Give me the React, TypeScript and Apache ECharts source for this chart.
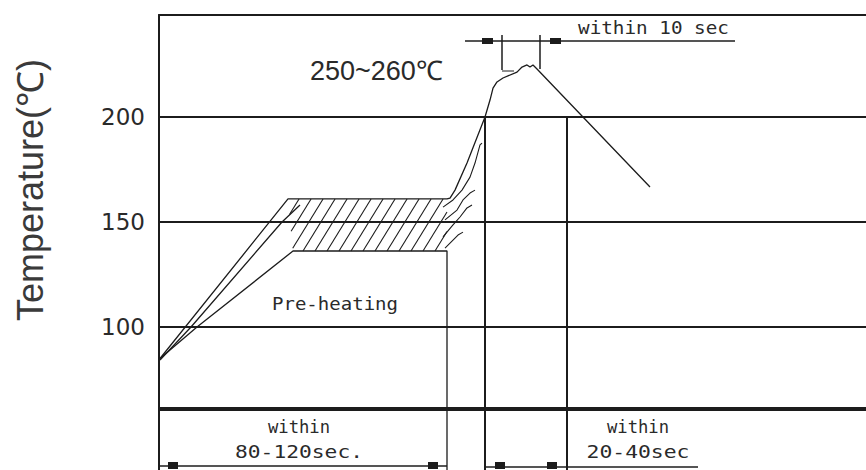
import React, { useEffect, useRef } from 'react';
import * as echarts from 'echarts';

// ---- axis values ----
const yTickValues = [100, 150, 200];
const baseLineTemp = [61];
const tempRange = [31.9, 248.6];
const timeRange = [0, 353.5];

// ---- reflow profile (time, temperature) ----
const profileUpper: number[][] = [
  [0.5, 85], [64.5, 161], [144, 161], [145.5, 161.4], [148, 165.2], [154, 178.1], [163, 200],
  [165.5, 208.1], [167, 213.8], [169, 216.7], [172, 218.6], [179, 221.4], [181.5, 223.8],
  [184, 224.8], [185.5, 223.8], [187, 224.8], [189, 222.9], [245.5, 166.7],
];
const profileLower: number[][] = [[0.5, 85], [19, 100], [67, 136.2], [144, 136.2], [144, 31.9]];
const profileMiddle: number[][] = [[0.5, 84.3], [16, 100], [61.5, 150], [70.5, 158.1]];
const rampLine1: number[][] = [[142, 157.1], [147, 160.5], [151.5, 165.2], [155.5, 171.4], [158, 178.1], [160.5, 186.7], [161.5, 187.6]];
const rampLine2: number[][] = [[143, 151], [149, 155.7], [152, 160.5], [155.5, 163.8], [158, 165.2]];
const rampLine3: number[][] = [[142, 142.9], [147, 148.6], [150.5, 152.4], [154, 156.7], [156.5, 158.1]];
const rampLine4: number[][] = [[143, 137.6], [145.5, 140], [149.5, 143.8], [152, 145.2]];
const hatchZone: number[][] = [[64.5, 161], [144, 161], [144, 136.2], [67, 136.2]];
const zoneBoundaryTimes = [163, 204];
const zoneBoundaryTemp = 200;

const INK = '#1c1c1c';
const TEXT = '#2a2a2a';

function lineSeries(data: number[][], width = 1.3) {
  return {
    type: 'line',
    data,
    symbol: 'none',
    showSymbol: false,
    silent: true,
    z: 3,
    lineStyle: { color: INK, width },
  };
}

function monoText(text: string, cx: number, cy: number, targetWidth: number, fontSize = 18) {
  const natural = text.length * 0.602 * fontSize;
  return {
    type: 'text',
    x: cx,
    y: cy,
    scaleX: targetWidth / natural,
    style: {
      text,
      fontSize,
      fontFamily: '"DejaVu Sans Mono"',
      fill: TEXT,
      align: 'center',
      verticalAlign: 'middle',
      textAlign: 'center',
      textVerticalAlign: 'middle',
    },
    z: 10,
  };
}

export default function App() {
  const ref = useRef<HTMLDivElement>(null);
  useEffect(() => {
    document.body.style.margin = '0';
    const chart = echarts.init(ref.current!, null, { renderer: 'svg' });

    const hatchSeries = {
      type: 'custom',
      silent: true,
      z: 2,
      data: [[0, 100]],
      encode: { x: 0, y: 1 },
      renderItem: (_params: any, api: any) => {
        const [tl, tr, , bl] = hatchZone.map((p) => api.coord(p));
        const yT = tl[1];
        const yB = bl[1];
        const H = yB - yT;
        const k = 32 / 52;
        const kl = (tl[0] - bl[0]) / H;
        const right = tr[0];
        const children: any[] = [];
        for (let x0 = bl[0] - 50; x0 < right; x0 += 12) {
          const lo = Math.max(0, x0 < bl[0] ? (bl[0] - x0) / (k - kl) : 0);
          const hi = Math.min(H, (right - x0) / k);
          if (hi - lo > 1) {
            children.push({
              type: 'line',
              shape: { x1: x0 + lo * k, y1: yB - lo, x2: x0 + hi * k, y2: yB - hi },
              style: { stroke: INK, lineWidth: 1.1 },
            });
          }
        }
        return { type: 'group', children };
      },
    };

    const option: any = {
      animation: false,
      grid: { left: 159, right: 0, top: 15, bottom: 0 },
      xAxis: {
        type: 'value',
        min: timeRange[0],
        max: timeRange[1],
        position: 'top',
        axisLine: { show: true, lineStyle: { color: INK, width: 2 } },
        axisTick: { show: false },
        axisLabel: { show: false },
        splitLine: { show: false },
      },
      yAxis: {
        type: 'value',
        min: tempRange[0],
        max: tempRange[1],
        axisLine: { show: true, lineStyle: { color: INK, width: 2 } },
        axisTick: { show: false },
        splitLine: { show: false },
        axisLabel: {
          customValues: yTickValues,
          margin: 14,
          fontSize: 23,
          fontFamily: '"DejaVu Sans"',
          color: TEXT,
          padding: [12, 0, 0, 0],
        },
      },
      series: [
        {
          ...lineSeries(profileUpper),
          markLine: {
            silent: true,
            symbol: 'none',
            label: { show: false },
            lineStyle: { color: INK, width: 2, type: 'solid' },
            data: [
              ...yTickValues.map((v) => ({ yAxis: v })),
              ...baseLineTemp.map((v) => ({ yAxis: v, lineStyle: { color: INK, width: 4, type: 'solid' } })),
            ],
          },
        },
        lineSeries(profileLower.map((p, i) => (i === profileLower.length - 1 ? [p[0], tempRange[0]] : p))),
        lineSeries(profileMiddle),
        lineSeries(rampLine1, 1.1),
        lineSeries(rampLine2, 1.1),
        lineSeries(rampLine3, 1.1),
        lineSeries(rampLine4, 1.1),
        ...zoneBoundaryTimes.map((t) => lineSeries([[t, zoneBoundaryTemp], [t, tempRange[0]]], 2)),
        hatchSeries,
      ],
      graphic: [
        {
          type: 'text',
          x: 30,
          y: 190,
          rotation: Math.PI / 2,
          style: {
            text: 'Temperature(℃)',
            fontSize: 36,
            fontFamily: '"Liberation Sans"',
            fill: '#3a3a3a',
            align: 'center',
            verticalAlign: 'middle',
            textAlign: 'center',
            textVerticalAlign: 'middle',
          },
        },
        {
          type: 'text',
          x: 310,
          y: 71,
          style: {
            text: '250~260℃',
            fontSize: 27,
            fontFamily: '"Liberation Sans"',
            fill: TEXT,
            align: 'left',
            verticalAlign: 'middle',
            textAlign: 'left',
            textVerticalAlign: 'middle',
          },
        },
        monoText('within 10 sec', 653.5, 28, 151),
        monoText('Pre-heating', 335, 304, 126),
        monoText('within', 299, 427, 62),
        monoText('80-120sec.', 299, 452, 128),
        monoText('within', 638, 427, 62),
        monoText('20-40sec', 638, 452, 103),
        // top dimension (within 10 sec)
        { type: 'line', shape: { x1: 465, y1: 41, x2: 735, y2: 41 }, style: { stroke: INK, lineWidth: 1.5 } },
        { type: 'rect', shape: { x: 482, y: 38, width: 11, height: 6 }, style: { fill: INK } },
        { type: 'rect', shape: { x: 550, y: 38, width: 11, height: 6 }, style: { fill: INK } },
        { type: 'line', shape: { x1: 502, y1: 35, x2: 502, y2: 70 }, style: { stroke: INK, lineWidth: 1.5 } },
        { type: 'line', shape: { x1: 540, y1: 35, x2: 540, y2: 69 }, style: { stroke: INK, lineWidth: 1.5 } },
        { type: 'line', shape: { x1: 502, y1: 71, x2: 514, y2: 71 }, style: { stroke: INK, lineWidth: 1 } },
        // bottom dimensions
        { type: 'line', shape: { x1: 159, y1: 466, x2: 447, y2: 466 }, style: { stroke: INK, lineWidth: 1.5 } },
        { type: 'rect', shape: { x: 168, y: 462, width: 10, height: 7 }, style: { fill: INK } },
        { type: 'rect', shape: { x: 428, y: 462, width: 10, height: 7 }, style: { fill: INK } },
        { type: 'line', shape: { x1: 486, y1: 467, x2: 698, y2: 467 }, style: { stroke: INK, lineWidth: 1.5 } },
        { type: 'rect', shape: { x: 495, y: 462, width: 10, height: 7 }, style: { fill: INK } },
        { type: 'rect', shape: { x: 547, y: 462, width: 10, height: 7 }, style: { fill: INK } },
      ],
    };

    chart.setOption(option);
    return () => chart.dispose();
  }, []);
  return <div ref={ref} style={{ width: 866, height: 470 }} />;
}
